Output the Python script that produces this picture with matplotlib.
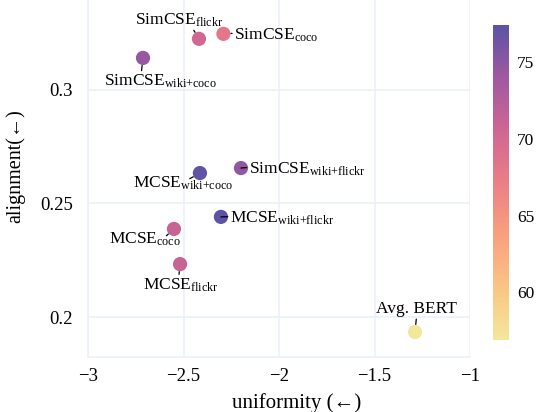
import matplotlib
matplotlib.use("Agg")
import matplotlib.pyplot as plt
from matplotlib.colors import LinearSegmentedColormap, Normalize

plt.rcParams['font.family'] = ['Liberation Serif', 'DejaVu Serif']
plt.rcParams['mathtext.fontset'] = 'custom'
plt.rcParams['mathtext.rm'] = 'Liberation Serif'
plt.rcParams['mathtext.it'] = 'Liberation Serif:italic'

# data
labels = [r'SimCSE$_{\mathrm{flickr}}$', r'SimCSE$_{\mathrm{coco}}$', r'SimCSE$_{\mathrm{wiki{+}coco}}$',
          r'SimCSE$_{\mathrm{wiki{+}flickr}}$', r'MCSE$_{\mathrm{wiki{+}coco}}$', r'MCSE$_{\mathrm{wiki{+}flickr}}$',
          r'MCSE$_{\mathrm{coco}}$', r'MCSE$_{\mathrm{flickr}}$', 'Avg. BERT']
uniformity = [-2.419, -2.291, -2.712, -2.199, -2.414, -2.304, -2.550, -2.518, -1.288]
alignment = [0.3225, 0.3247, 0.3141, 0.2656, 0.2634, 0.2441, 0.2388, 0.2233, 0.1934]
sts_score = [70.2, 68.2, 74.5, 74.7, 77.0, 77.4, 71.2, 71.2, 56.9]
x_ticks = [-3, -2.5, -2, -1.5, -1]
x_tick_labels = ['\u22123', '\u22122.5', '\u22122', '\u22121.5', '\u22121']
y_ticks = [0.2, 0.25, 0.3]
y_tick_labels = ['0.2', '0.25', '0.3']
cbar_ticks = [60, 65, 70, 75]

# label layout: offset in px (dx right, dy up) from point to label centre,
# and where on the label box the connector starts
label_offsets = [(-19.5, 19), (53, -1.5), (17.5, -23.5), (66, -1), (-17, -10.5),
                 (61, -1.5), (-28.5, -10), (1, -21), (1.5, 23)]
connector_rel = [(0.65, 0.0), (0.0, 0.62), (0.33, 1.0), (0.0, 0.6), (0.55, 0.72),
                 (0.0, 0.6), (0.77, 0.6), (0.47, 1.0), (0.5, 0.0)]

sunset = ['#f3e79b', '#fac484', '#f8a07e', '#eb7f86', '#ce6693', '#a059a0', '#5c53a5']
cmap = LinearSegmentedColormap.from_list('sunset', sunset)
norm = Normalize(vmin=56.9, vmax=77.4)

fig = plt.figure(figsize=(5.37, 4.12), dpi=100)
ax = fig.add_axes([88/537, 1-357/412, 382/537, 357/412])
ax.set_xlim(-3, -1)
ax.set_ylim(0.1824, 0.3396)
ax.set_facecolor('white')
for s in ['top', 'right']:
    ax.spines[s].set_visible(False)
for s in ['left', 'bottom']:
    ax.spines[s].set_color('#ebf0f8')
    ax.spines[s].set_linewidth(1.2)
ax.set_xticks(x_ticks)
ax.set_xticklabels(x_tick_labels)
ax.set_yticks(y_ticks)
ax.set_yticklabels(y_tick_labels)
ax.tick_params(axis='both', length=0, labelsize=13.5, pad=8)
ax.tick_params(axis='y', pad=11)
ax.grid(True, color='#ebf0f8', linewidth=1.2)
ax.set_axisbelow(True)

sc = ax.scatter(uniformity, alignment, c=sts_score, cmap=cmap, norm=norm, s=105,
                linewidths=0, zorder=3)

px2pt = 0.72
for lab, x, y, (dx, dy), rel in zip(labels, uniformity, alignment, label_offsets, connector_rel):
    ax.annotate(lab, xy=(x, y), xytext=(dx * px2pt, dy * px2pt), textcoords='offset points',
                ha='center', va='center', fontsize=12.5, color='black',
                arrowprops=dict(arrowstyle='-', color='black', lw=0.9, shrinkA=1.5, shrinkB=5.5,
                                patchA=None, relpos=rel),
                zorder=4)

ax.set_xlabel('uniformity (\u2190)', fontsize=15)
ax.xaxis.set_label_coords(0.545, -0.1)
ax.set_ylabel('alignment(\u2190)', fontsize=14.5)
ax.yaxis.set_label_coords(-0.165, 0.535)

cax = fig.add_axes([493/537, 1-340/412, 16/537, 315/412])
cb = fig.colorbar(sc, cax=cax, ticks=cbar_ticks)
cb.outline.set_visible(False)
cax.tick_params(length=0, labelsize=12.5, pad=6)

fig.savefig('out.png', dpi=100)
